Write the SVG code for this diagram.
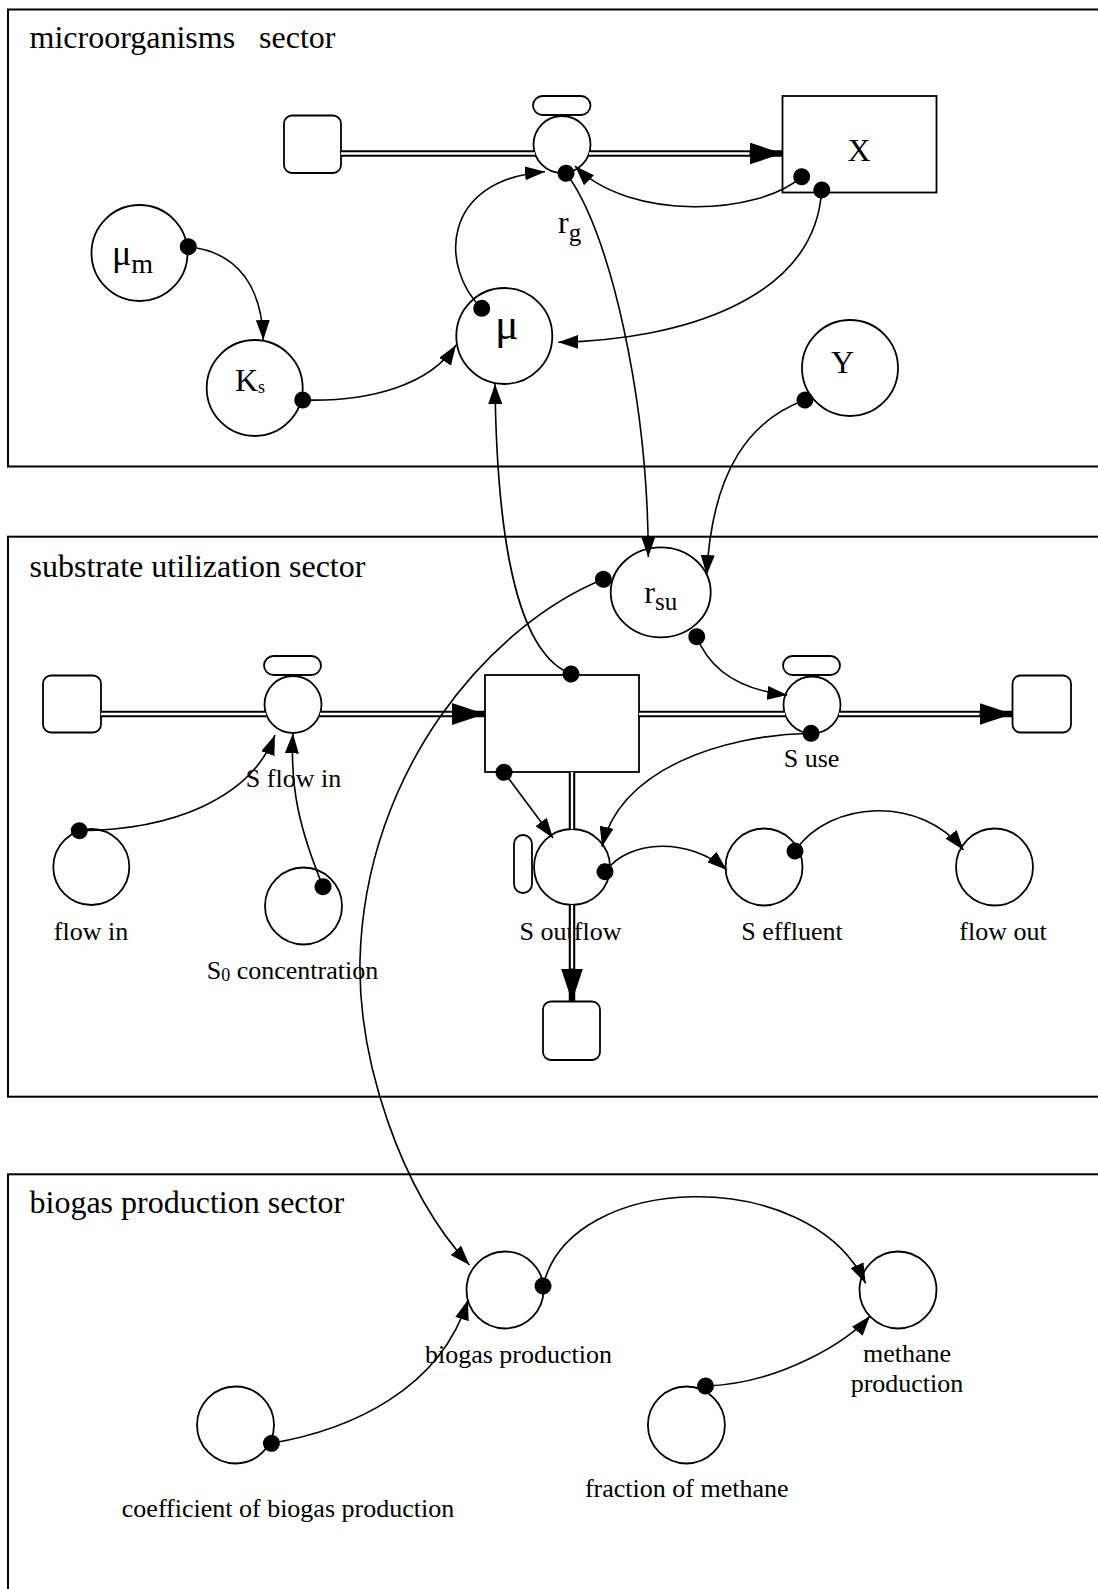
<svg xmlns="http://www.w3.org/2000/svg" width="1098" height="1589" viewBox="0 0 1098 1589">
  <style>
    text { font-family: "Liberation Serif", "Times New Roman", serif; fill: #000; }
    .title { font-size: 32px; white-space: pre; }
    .lbl { font-size: 26px; text-anchor: middle; }
    .lbl-start { font-size: 26px; text-anchor: start; }
    .sym { font-size: 32px; }
    .frame { fill: none; stroke: #000; stroke-width: 2; }
    .shape { fill: #fff; stroke: #000; stroke-width: 1.8; }
    .pipe { fill: none; stroke: #000; stroke-width: 6.5; }
    .pipe-core { fill: none; stroke: #fff; stroke-width: 2.3; }
    .flow-end { marker-end: url(#flowhead); }
    .link { fill: none; stroke: #000; stroke-width: 1.6; marker-start: url(#dot); marker-end: url(#arrow); }
  </style>
  <defs>
    <marker id="arrow" markerUnits="userSpaceOnUse" viewBox="0 0 20 14" markerWidth="20" markerHeight="14" refX="20" refY="7" orient="auto">
      <path d="M0,0 L20,7 L0,14 Z" fill="#000"/>
    </marker>
    <marker id="dot" markerUnits="userSpaceOnUse" viewBox="0 0 18 18" markerWidth="18" markerHeight="18" refX="9" refY="9" orient="auto">
      <circle cx="9" cy="9" r="8.5" fill="#000"/>
    </marker>
    <marker id="flowhead" markerUnits="userSpaceOnUse" viewBox="0 0 33 22" markerWidth="33" markerHeight="22" refX="33" refY="11" orient="auto">
      <path d="M0,0 L33,11 L0,22 Z" fill="#000"/>
    </marker>
  </defs>

  <rect width="1098" height="1589" fill="#fff"/>

  <!-- sector frames -->
  <g id="sector-microorganisms">
    <rect class="frame" x="8" y="9.5" width="1100" height="457"/>
    <text class="title" x="29.5" y="48.3">microorganisms   sector</text>
  </g>
  <g id="sector-substrate">
    <rect class="frame" x="8" y="536.7" width="1100" height="560"/>
    <text class="title" x="29.5" y="577.3">substrate utilization sector</text>
  </g>
  <g id="sector-biogas">
    <rect class="frame" x="8" y="1174.3" width="1100" height="440"/>
    <text class="title" x="29.5" y="1213.3">biogas production sector</text>
  </g>

  <!-- microorganisms sector nodes -->
  <g id="x-source">
    <rect class="shape" x="284" y="115.5" width="57" height="57.5" rx="8"/>
  </g>
  <g id="rg">
    <rect class="shape" x="533" y="96" width="57.5" height="19" rx="9.5"/>
    <circle class="shape" cx="562" cy="144.5" r="28.5"/>
    <text class="sym" x="558" y="233.3">r<tspan font-size="25" dy="7.4">g</tspan></text>
  </g>
  <g id="X">
    <rect class="shape" x="782.5" y="96" width="154" height="96.5"/>
    <text class="sym" x="859" y="161" text-anchor="middle">X</text>
  </g>
  <g id="mu-m">
    <circle class="shape" cx="139.5" cy="253" r="48"/>
    <text class="sym" x="112" y="265" style="font-size:36px">μ<tspan font-size="28" dy="8">m</tspan></text>
  </g>
  <g id="Ks">
    <circle class="shape" cx="254.7" cy="388" r="48"/>
    <text class="sym" x="235" y="391">K<tspan font-size="18" dy="2">s</tspan></text>
  </g>
  <g id="mu">
    <circle class="shape" cx="504.3" cy="336" r="48"/>
    <text class="sym" x="495" y="339" style="font-size:44px">μ</text>
  </g>
  <g id="Y">
    <circle class="shape" cx="850" cy="368" r="48"/>
    <text class="sym" x="842.5" y="372.7" text-anchor="middle">Y</text>
  </g>

  <!-- substrate utilization sector nodes -->
  <g id="rsu">
    <ellipse class="shape" cx="660.7" cy="592.3" rx="50" ry="45"/>
    <text class="sym" x="644.3" y="603.3">r<tspan font-size="25" dy="6.7">su</tspan></text>
  </g>
  <g id="s-source">
    <rect class="shape" x="43" y="675.5" width="58" height="57" rx="8"/>
  </g>
  <g id="s-flow-in">
    <rect class="shape" x="264" y="656" width="57" height="19" rx="9.5"/>
    <circle class="shape" cx="293" cy="704.5" r="28.5"/>
    <text class="lbl" x="293.5" y="787">S flow in</text>
  </g>
  <g id="S">
    <rect class="shape" x="485" y="675" width="154" height="97"/>
  </g>
  <g id="s-use">
    <rect class="shape" x="783" y="656" width="57" height="19" rx="9.5"/>
    <circle class="shape" cx="812" cy="705" r="28.5"/>
    <text class="lbl" x="811.5" y="767">S use</text>
  </g>
  <g id="s-use-sink">
    <rect class="shape" x="1012.5" y="675.5" width="58.5" height="57" rx="8"/>
  </g>
  <g id="s-outflow">
    <rect class="shape" x="514" y="835" width="18" height="58" rx="9"/>
    <circle class="shape" cx="572" cy="867" r="38"/>
    <text class="lbl" x="570.5" y="940">S outflow</text>
  </g>
  <g id="s-outflow-sink">
    <rect class="shape" x="543" y="1001.5" width="57" height="58.5" rx="8"/>
  </g>
  <g id="flow-in">
    <circle class="shape" cx="91.3" cy="867" r="38"/>
    <text class="lbl" x="91" y="940">flow in</text>
  </g>
  <g id="s0-concentration">
    <circle class="shape" cx="303.5" cy="906" r="38.5"/>
    <text class="lbl-start" x="206.7" y="979.3">S<tspan font-size="18" dy="1.5">0</tspan><tspan dy="-1.5"> concentration</tspan></text>
  </g>
  <g id="s-effluent">
    <circle class="shape" cx="764" cy="867" r="38.5"/>
    <text class="lbl" x="792" y="940">S effluent</text>
  </g>
  <g id="flow-out">
    <circle class="shape" cx="994.5" cy="867" r="38.5"/>
    <text class="lbl" x="1003" y="940">flow out</text>
  </g>

  <!-- biogas production sector nodes -->
  <g id="biogas-production">
    <circle class="shape" cx="505" cy="1290" r="38.5"/>
    <text class="lbl" x="518.5" y="1363">biogas production</text>
  </g>
  <g id="methane-production">
    <circle class="shape" cx="898" cy="1290" r="38.5"/>
    <text class="lbl" x="907" y="1362">methane</text>
    <text class="lbl" x="907" y="1392">production</text>
  </g>
  <g id="coefficient-of-biogas-production">
    <circle class="shape" cx="235.5" cy="1425" r="38.5"/>
    <text class="lbl" x="288" y="1517">coefficient of biogas production</text>
  </g>
  <g id="fraction-of-methane">
    <circle class="shape" cx="686.4" cy="1425" r="38.5"/>
    <text class="lbl" x="686.7" y="1497">fraction of methane</text>
  </g>

  <!-- connectors: material flows (pipes) and information links -->
  <g id="connectors">
    <g id="flows">
      <!-- growth flow into X -->
      <path class="pipe" d="M341,153.5 H535"/>
      <path class="pipe-core" d="M341,153.5 H535"/>
      <path class="pipe flow-end" d="M589,153.5 H782.5"/>
      <path class="pipe-core" d="M589,153.5 H749.5"/>
      <!-- substrate inflow -->
      <path class="pipe" d="M101,714 H266"/>
      <path class="pipe-core" d="M101,714 H266"/>
      <path class="pipe flow-end" d="M320,714 H485"/>
      <path class="pipe-core" d="M320,714 H452"/>
      <!-- substrate use -->
      <path class="pipe" d="M639,714 H785"/>
      <path class="pipe-core" d="M639,714 H785"/>
      <path class="pipe flow-end" d="M839,714 H1012.5"/>
      <path class="pipe-core" d="M839,714 H979.5"/>
      <!-- substrate outflow -->
      <path class="pipe" d="M572,772 V829"/>
      <path class="pipe-core" d="M572,772 V829"/>
      <path class="pipe flow-end" d="M572,905 V1001.5"/>
      <path class="pipe-core" d="M572,905 V968.5"/>
    </g>
    <g id="links">
      <path class="link" d="M188.3,246.7 C240,252 262,290 263.3,340"/>
      <path class="link" d="M302.7,400 C370,402 430,385 456,345"/>
      <path class="link" d="M481.7,308.3 C440,268 440,180 545,171.7"/>
      <path class="link" d="M801.7,176.7 C760,215 630,222 575,166"/>
      <path class="link" d="M821.7,190 C815,300 680,340 558.3,342.3"/>
      <path class="link" d="M571,674 C522,655 497,560 495,384"/>
      <path class="link" d="M566,173.3 C610,230 648,400 648.3,557"/>
      <path class="link" d="M805,400 C750,420 712,470 706.7,575"/>
      <path class="link" d="M603.3,579.3 C490,625 365,770 360,960 C358,1060 400,1190 469.5,1265"/>
      <path class="link" d="M696.7,636.7 C710,670 740,690 787.3,695"/>
      <path class="link" d="M811,733.3 C720,735 620,770 602,846.7"/>
      <path class="link" d="M504,772.3 L553,838"/>
      <path class="link" d="M605,871.7 C630,838 690,838 726.8,870"/>
      <path class="link" d="M795,851 C830,800 920,795 963.5,850"/>
      <path class="link" d="M79.3,830.7 C170,830 250,800 275,735"/>
      <path class="link" d="M323,886.7 C300,830 290,790 292.9,733.3"/>
      <path class="link" d="M543,1286 C570,1170 810,1165 865.6,1283.3"/>
      <path class="link" d="M705.5,1386 C780,1384 850,1340 870,1316"/>
      <path class="link" d="M271.4,1443.3 C350,1430 440,1390 467.9,1300"/>
    </g>
  </g>
</svg>
